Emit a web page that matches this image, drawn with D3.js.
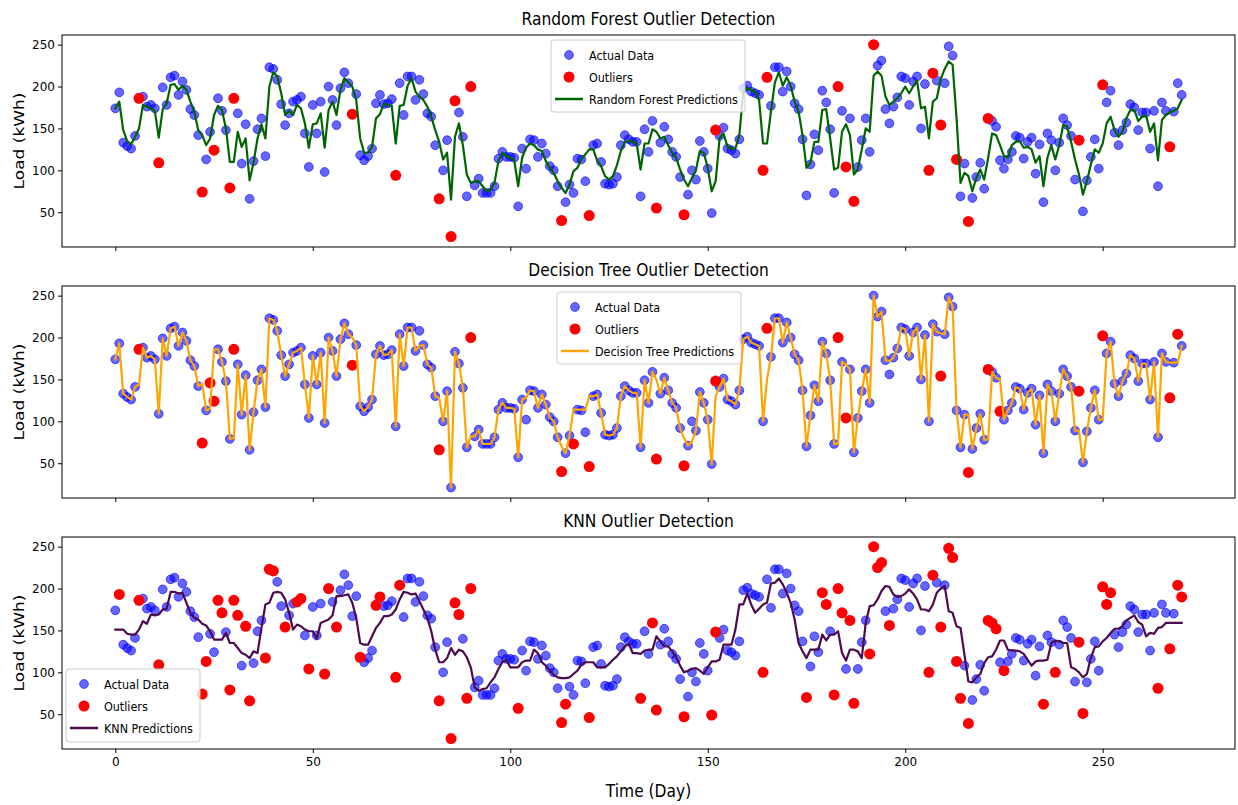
<!DOCTYPE html>
<html>
<head>
<meta charset="utf-8">
<script src="https://cdn.jsdelivr.net/npm/d3@7"></script>
<style>
  body { margin: 0; background: #fff; }
  svg { display: block; }
  text { font-family: "DejaVu Sans", sans-serif; fill: #000; }
</style>
</head>
<body>
<div id="chart"></div>
<script>
// day index 0..270
var days = d3.range(271);

// actual daily load (kWh)
var load = [
  174,193,133,129,126,141,186,188,176,178, 174,109,199,178,211,213,190,206,196,173,
  166,142,74,113,146,124,186,171,148,79, 186,168,108,155,66,111,149,162,117,223,
  221,208,179,154,168,182,184,188,144,104, 178,144,182,98,200,184,154,198,217,204,
  167,191,118,112,117,126,180,190,179,180, 185,94,204,166,212,212,184,208,191,168,
  164,130,66,100,136,21,183,169,140,69, 200,82,90,73,73,73,81,114,122,116,
  116,115,57,126,102,137,136,116,132,120, 105,100,81,40,62,83,73,114,113,87,
  46,130,132,110,84,83,84,92,130,142, 137,134,134,69,149,122,159,55,133,152,
  137,122,116,92,47,71,100,89,135,122, 102,49,148,141,151,126,124,120,137,198,
  201,194,192,190,100,211,177,223,223,194, 218,200,180,173,137,70,107,143,124,195,
  181,149,73,200,171,104,162,63,104,136, 162,122,250,225,231,173,156,176,187,212,
  210,178,206,212,150,203,100,216,207,154, 204,248,237,113,69,108,39,67,92,109,
  78,162,159,152,112,102,113,122,141,139, 114,134,139,96,131,62,144,136,100,133,
  162,154,141,89,136,51,88,116,137,102, 202,181,195,145,130,148,157,179,175,148,
  169,169,126,171,81,181,171,128,170,204, 190
];

var rfPred = [
  174,182,148,135,131,140,150,178,176,174, 171,139,173,180,202,203,196,201,196,182,
  170,148,142,130,138,166,177,172,150,110, 110,146,128,138,88,109,138,155,138,200,
  217,212,192,166,171,166,178,174,156,127, 155,156,168,127,172,182,166,196,210,205,
  200,184,138,121,121,128,162,167,180,178, 177,132,177,178,201,210,194,188,184,176,
  164,148,134,113,121,65,140,156,130,95, 85,87,87,81,75,77,85,111,121,117,
  115,112,81,115,127,132,130,125,123,111, 103,97,87,79,73,83,99,103,113,119,
  125,125,112,105,93,89,93,106,123,134, 135,134,132,101,132,132,149,146,138,140,
  130,121,115,101,89,81,91,100,123,121, 103,75,87,138,144,128,126,126,142,194,
  198,196,194,184,132,132,170,205,217,201, 211,201,182,170,142,103,109,134,134,172,
  173,138,101,103,146,155,142,95,101,125, 150,146,213,218,213,188,178,182,186,192,
  200,192,200,207,174,176,138,182,186,209, 221,230,226,162,85,97,93,75,91,101,
  89,115,144,142,130,117,115,130,134,135, 127,128,125,109,117,81,115,130,113,130,
  154,152,134,113,95,71,87,107,125,121, 132,156,164,148,140,146,162,172,172,159,
  164,165,146,156,112,160,166,169,171,174, 184
];

var dtPred = [
  174,193,133,129,126,141,144,188,176,178, 174,109,199,178,211,213,190,206,196,173,
  166,142,145,113,115,186,186,171,148,79, 80,168,108,155,66,111,149,162,117,223,
  221,208,179,154,168,182,184,188,144,104, 178,144,182,98,200,184,154,198,217,204,
  200,191,118,112,117,126,180,190,179,180, 185,94,204,166,212,212,184,190,191,168,
  164,130,128,100,136,21,183,169,140,69, 82,82,90,73,73,73,81,114,122,116,
  116,115,57,126,128,137,136,116,132,120, 105,100,81,70,62,83,114,114,114,114,
  130,130,132,110,84,83,84,92,130,142, 137,134,134,69,149,122,159,150,133,152,
  137,122,116,92,80,71,76,89,135,122, 102,49,130,141,151,126,124,120,137,198,
  201,194,192,190,100,150,177,223,223,194, 218,200,180,173,137,70,107,143,124,195,
  181,149,73,73,171,168,162,63,104,136, 162,122,250,225,231,173,172,176,187,212,
  210,178,206,212,150,203,100,216,207,205, 204,248,237,113,69,108,108,67,92,109,
  78,78,159,152,150,102,113,122,141,139, 114,134,139,96,131,62,144,136,100,133,
  162,154,141,89,89,51,88,116,137,102, 102,181,195,145,130,148,157,179,175,148,
  169,169,126,171,81,181,171,170,170,170, 190
];

var knnPred = [
  151,151,151,146,145,145,151,161,158,169, 168,169,175,176,196,196,194,195,183,171,
  165,163,158,156,149,139,139,139,147,135, 135,129,123,121,117,125,123,153,181,183,
  195,196,195,187,171,151,157,155,151,149, 149,140,159,161,163,168,191,191,192,193,
  183,165,135,133,133,143,153,159,167,167, 169,175,187,196,195,193,194,185,175,165,
  149,127,112,112,117,129,121,127,125,118, 106,82,78,80,81,88,94,104,112,115,
  106,106,106,112,114,114,127,123,112,108, 102,97,94,93,93,94,98,102,109,112,
  112,112,106,106,106,110,115,119,125,131, 134,123,123,122,126,127,127,143,137,131,
  131,125,118,108,100,102,104,105,102,98, 106,113,113,115,133,133,133,151,181,181,
  194,181,171,176,181,183,206,207,212,205, 195,183,163,135,125,117,127,127,127,145,
  138,145,145,149,123,114,127,127,125,117, 159,179,180,187,197,203,202,193,190,191,
  194,199,194,187,175,175,173,181,195,200, 203,173,171,155,153,121,89,88,94,98,
  111,118,119,127,138,138,127,126,126,125, 122,115,108,113,114,114,115,135,138,137,
  135,135,106,104,100,94,98,117,130,131, 137,141,147,152,152,155,162,165,168,160,
  157,143,147,146,153,154,159,159,159,159, 159
];

// days flagged as outliers by each model
var rfOutliers = [6,11,22,25,29,30,60,71,82,85,86,90,113,120,137,144,152,164,165,183,185,187,192,206,207,209,213,216,221,244,250,267];
var dtOutliers = [6,22,24,25,30,60,82,90,113,116,120,137,144,152,165,183,185,209,216,221,224,244,250,267,269];
var knnOutliers = [1,6,11,22,23,26,27,29,30,31,33,34,38,39,40,43,46,47,49,53,54,56,62,66,67,71,72,82,85,86,87,89,90,
  102,113,114,120,133,136,137,144,151,152,164,175,179,180,182,183,184,186,187,191,192,193,194,196,206,207,209,211,
  212,213,214,216,221,222,223,225,235,238,244,245,250,251,252,264,267,269,270];

var yTicks = [50, 100, 150, 200, 250];
var xTicks = [0, 50, 100, 150, 200, 250];

var width = 1238, height = 805;
var left = 62, right = 1235;
var squeeze = 0.86; // picture text is horizontally narrow

var svg = d3.select('#chart').append('svg').attr('width', width).attr('height', height);

var x = d3.scaleLinear().domain([-13.5, 283.5]).range([left, right]);

var panels = [
  { title: 'Random Forest Outlier Detection', pred: rfPred, out: rfOutliers, color: '#006400',
    name: 'Random Forest Predictions', top: 35, bottom: 247, legend: [551, 40, 194, 72] },
  { title: 'Decision Tree Outlier Detection', pred: dtPred, out: dtOutliers, color: '#ffa500',
    name: 'Decision Tree Predictions', top: 286, bottom: 498, legend: [557, 292, 184, 72] },
  { title: 'KNN Outlier Detection', pred: knnPred, out: knnOutliers, color: '#4d0a4d',
    name: 'KNN Predictions', top: 537, bottom: 749, legend: [66, 669, 134, 73] }
];

function squeezedText(g, tx, ty, str, size, anchor, rotate) {
  // rotated text: screen-horizontal squeeze hits the glyph height, not the run length
  var sc = rotate ? ' rotate(-90) scale(1,' + squeeze + ')' : ' scale(' + squeeze + ',1)';
  return g.append('text')
    .attr('transform', 'translate(' + tx + ',' + ty + ')' + sc)
    .attr('font-size', size)
    .attr('text-anchor', anchor)
    .text(str);
}

panels.forEach(function(p, k) {
  var y = d3.scaleLinear().domain([8.5, 261.5]).range([p.bottom, p.top]);
  var g = svg.append('g');

  var clipId = 'clip' + k;
  svg.append('clipPath').attr('id', clipId).append('rect')
    .attr('x', left).attr('y', p.top).attr('width', right - left).attr('height', p.bottom - p.top);

  var plot = g.append('g').attr('clip-path', 'url(#' + clipId + ')');

  plot.selectAll('circle.actual').data(days).enter().append('circle')
    .attr('class', 'actual')
    .attr('cx', function(d) { return x(d); })
    .attr('cy', function(d) { return y(load[d]); })
    .attr('r', 4.4)
    .attr('fill', 'blue').attr('fill-opacity', 0.6)
    .attr('stroke', 'blue').attr('stroke-opacity', 0.6).attr('stroke-width', 1);

  plot.selectAll('circle.out').data(p.out).enter().append('circle')
    .attr('class', 'out')
    .attr('cx', function(d) { return x(d); })
    .attr('cy', function(d) { return y(load[d]); })
    .attr('r', 5.5)
    .attr('fill', 'red');

  var line = d3.line().x(function(d) { return x(d); }).y(function(d) { return y(p.pred[d]); });
  plot.append('path').datum(days).attr('d', line)
    .attr('fill', 'none').attr('stroke', p.color).attr('stroke-width', 2.2)
    .attr('stroke-linejoin', 'round').attr('stroke-linecap', 'square');

  // axes
  var yAxis = d3.axisLeft(y).tickValues(yTicks).tickSize(4).tickPadding(3);
  var ga = g.append('g').attr('transform', 'translate(' + left + ',0)').call(yAxis);
  ga.select('.domain').remove();
  ga.selectAll('text').attr('font-size', 12).attr('font-family', 'DejaVu Sans');

  var xAxis = d3.axisBottom(x).tickValues(xTicks).tickSize(4).tickPadding(4);
  if (k < 2) xAxis.tickFormat('');
  var gx = g.append('g').attr('transform', 'translate(0,' + p.bottom + ')').call(xAxis);
  gx.select('.domain').remove();
  gx.selectAll('text').attr('font-size', 12).attr('font-family', 'DejaVu Sans');

  g.append('rect').attr('x', left).attr('y', p.top).attr('width', right - left).attr('height', p.bottom - p.top)
    .attr('fill', 'none').attr('stroke', '#000').attr('stroke-width', 1);

  squeezedText(g, (left + right) / 2, p.top - 10, p.title, 18, 'middle', false);
  squeezedText(g, 24, (p.top + p.bottom) / 2, 'Load (kWh)', 17, 'middle', true);

  // legend
  var L = p.legend;
  var lg = g.append('g').attr('transform', 'translate(' + L[0] + ',' + L[1] + ')');
  lg.append('rect').attr('width', L[2]).attr('height', L[3]).attr('rx', 3)
    .attr('fill', '#fff').attr('fill-opacity', 0.8).attr('stroke', '#ccc');
  var rows = [
    { label: 'Actual Data', kind: 'actual' },
    { label: 'Outliers', kind: 'out' },
    { label: p.name, kind: 'line' }
  ];
  rows.forEach(function(r, i) {
    var cy = 15 + i * 22;
    if (r.kind === 'actual') {
      lg.append('circle').attr('cx', 18).attr('cy', cy).attr('r', 4.4)
        .attr('fill', 'blue').attr('fill-opacity', 0.6)
        .attr('stroke', 'blue').attr('stroke-opacity', 0.6);
    } else if (r.kind === 'out') {
      lg.append('circle').attr('cx', 18).attr('cy', cy).attr('r', 5.5).attr('fill', 'red');
    } else {
      lg.append('line').attr('x1', 4).attr('x2', 32).attr('y1', cy).attr('y2', cy)
        .attr('stroke', p.color).attr('stroke-width', 2.5);
    }
    squeezedText(lg, 38, cy + 4.5, r.label, 13, 'start', false);
  });
});

squeezedText(svg, (left + right) / 2, 797, 'Time (Day)', 18, 'middle', false);
</script>
</body>
</html>
